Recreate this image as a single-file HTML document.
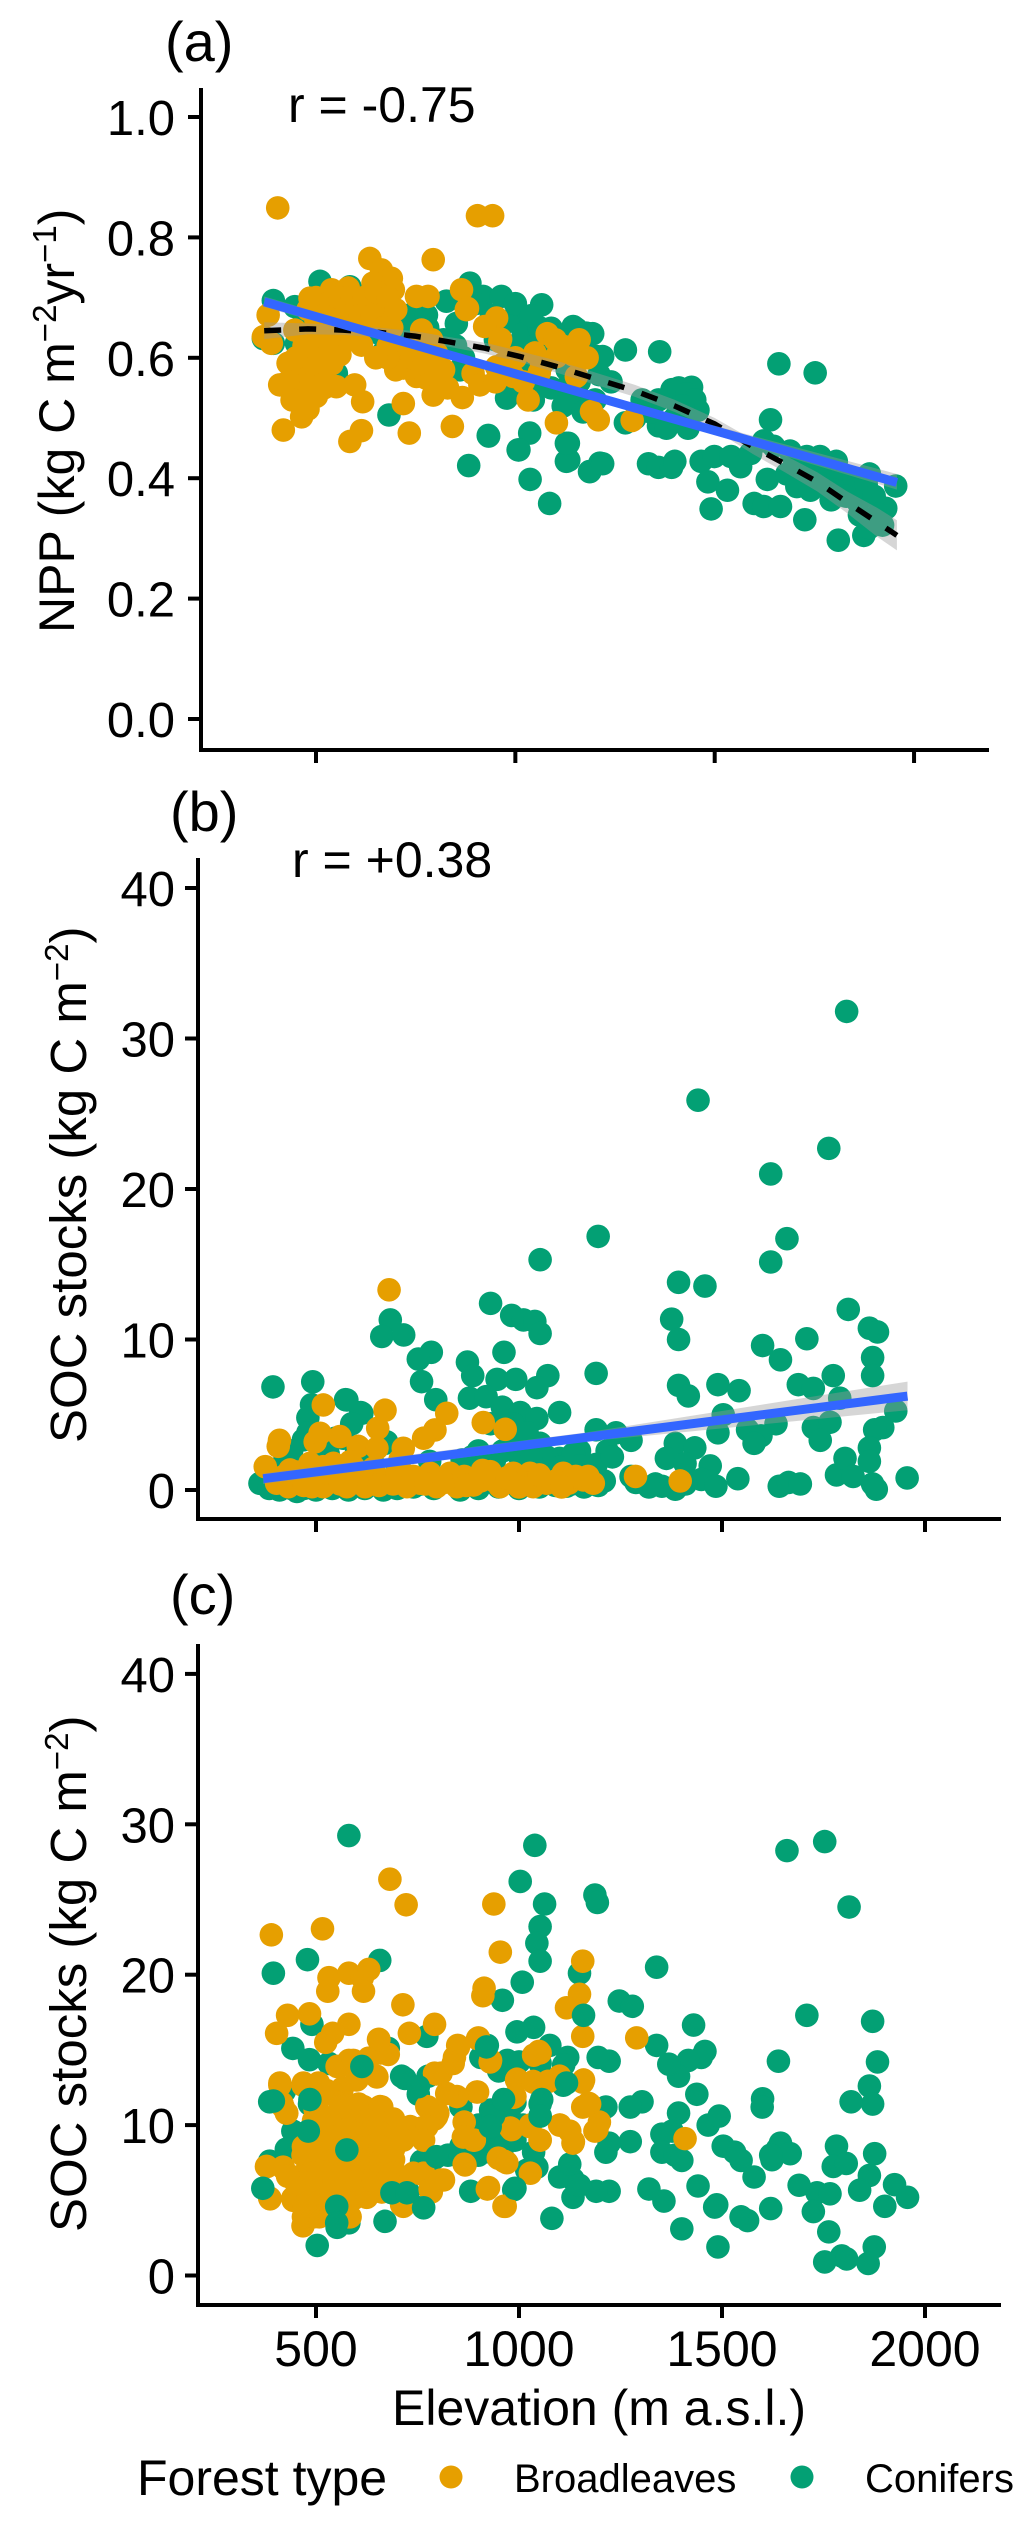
<!DOCTYPE html>
<html lang="en">
<head>
<meta charset="utf-8">
<title>NPP and SOC stocks along elevation</title>
<style>
html,body{margin:0;padding:0;background:#fff;}
svg{display:block;}
text{font-family:"Liberation Sans",Arial,sans-serif;fill:#000;}
.tick{font-size:49px;}
.title{font-size:50px;}
.panel{font-size:56px;}
</style>
</head>
<body>
<svg id="figure" xmlns="http://www.w3.org/2000/svg" width="1033" height="2526" viewBox="0 0 1033 2526">
  <g id="panel-a"></g>
  <g id="panel-b"></g>
  <g id="panel-c"></g>

  <text class="panel" x="165" y="61">(a)</text>
  <text class="panel" x="170" y="831">(b)</text>
  <text class="panel" x="170" y="1614">(c)</text>

  <text class="title" x="288" y="122">r = -0.75</text>
  <text class="title" x="292" y="877">r = +0.38</text>

  <text class="title" transform="translate(74,633) rotate(-90)">NPP (kg C m<tspan font-size="33" dy="-18">−2</tspan><tspan dy="18">yr</tspan><tspan font-size="33" dy="-18">−1</tspan><tspan dy="18">)</tspan></text>
  <text class="title" style="font-size:51px" transform="translate(86,1443) rotate(-90)">SOC stocks (kg C m<tspan font-size="33" dy="-18">−2</tspan><tspan dy="18">)</tspan></text>
  <text class="title" style="font-size:51px" transform="translate(86,2232) rotate(-90)">SOC stocks (kg C m<tspan font-size="33" dy="-18">−2</tspan><tspan dy="18">)</tspan></text>

  <text class="title" x="392" y="2425">Elevation (m a.s.l.)</text>

  <g>
    <text class="title" x="137" y="2495">Forest type</text>
    <circle cx="451" cy="2477" r="11.5" fill="#E69F00"></circle>
    <text x="514" y="2492" font-size="40">Broadleaves</text>
    <circle cx="802" cy="2477" r="11.5" fill="#03A074"></circle>
    <text x="865" y="2492" font-size="40">Conifers</text>
  </g>
</svg>

<script>
// ---------- Shared ticks ----------
const elevationTicks = [500, 1000, 1500, 2000];
const elevationTickLabels = ["500", "1000", "1500", "2000"];
const nppTicks = [0, 0.2, 0.4, 0.6, 0.8, 1.0];
const nppTickLabels = ["0.0", "0.2", "0.4", "0.6", "0.8", "1.0"];
const socTicks = [0, 10, 20, 30, 40];
const socTickLabels = ["0", "10", "20", "30", "40"];

// ---------- Panel (a): [elevation, NPP] ----------
const nppConifers = [
[393,.695],[510,.727],[447,.685],[585,.718],[368,.632],[393,.624],[476,.608],[451,.624],[551,.574],[430,.558],
[683,.505],[798,.558],[735,.671],[777,.671],[827,.694],[886,.724],[919,.702],[965,.702],[852,.657],[1011,.669],
[1066,.688],[1045,.657],[1090,.649],[1145,.652],[1178,.641],[995,.619],[861,.58],[978,.533],[1045,.53],[1053,.558],
[1120,.547],[1145,.53],[932,.471],[1036,.475],[1007,.447],[1133,.458],[1134,.43],[883,.421],[1037,.398],[1187,.411],
[1212,.425],[710,.602],[752,.602],[668,.608],[1204,.602],[1276,.613],[1362,.61],[1661,.59],[1752,.575],[1640,.497],
[1442,.551],[1393,.547],[1433,.525],[1458,.513],[1318,.53],[1359,.53],[1409,.517],[1359,.487],[1379,.483],[1276,.492],
[1433,.483],[1334,.424],[1359,.418],[1392,.418],[1400,.428],[1466,.428],[1499,.436],[1483,.394],[1532,.38],[1491,.349],
[1541,.436],[1565,.419],[1590,.441],[1623,.462],[1632,.398],[1599,.358],[1623,.353],[1665,.353],[1726,.331],[1810,.297],
[1874,.305],[1929,.35],[1954,.387],[1863,.339],[1792,.364],[1855,.381],[1871,.373],[1888,.407],[1805,.428],[1764,.436],
[1731,.436],[1689,.445],[1648,.453],[1681,.407],[1706,.386],[1764,.398],[1830,.39],[1888,.318],[1921,.322],[1219,.602],
[1194,.64],[1153,.648],[1210,.572],[1086,.358],[1128,.428],[1186,.411],[1219,.424],[933,.47],[1009,.447],[1128,.458],
[900,.69],[940,.67],[980,.66],[1020,.64],[1060,.65],[1100,.63],[1130,.63],[1000,.69],[1040,.67],[1170,.62],
[950,.63],[1000,.6],[1050,.62],[1090,.6],[1130,.58],[1160,.56],[1090,.55],[1120,.52],[1010,.55],[980,.56],
[1030,.58],[1060,.56],[1240,.56],[1200,.53],[1170,.51],[850,.62],[870,.6],[820,.63],[720,.66],[780,.65],
[800,.63],[750,.64],[690,.63],[660,.64],[700,.64],[470,.66],[520,.68],[1700,.43],[1730,.41],[1760,.42],
[1790,.41],[1820,.4],[1850,.4],[1880,.39],[1800,.38],[1830,.37],[1860,.36],[1770,.39],[1740,.38],[1410,.55],
[1430,.54],[1450,.53],[1420,.52],[1400,.5],[1340,.51],[1300,.5],[1900,.37],[1910,.34]
];
const nppBroadleaves = [
[635,.765],[664,.746],[689,.732],[643,.724],[694,.713],[652,.702],[685,.685],[623,.691],[660,.674],[539,.713],
[581,.716],[485,.699],[526,.696],[572,.691],[510,.685],[560,.677],[752,.702],[781,.702],[794,.763],[865,.713],
[877,.68],[953,.666],[923,.652],[765,.646],[380,.671],[447,.646],[388,.624],[368,.635],[518,.619],[560,.605],
[614,.621],[501,.635],[681,.619],[710,.608],[802,.608],[794,.594],[719,.583],[752,.569],[777,.566],[430,.591],
[460,.574],[409,.555],[489,.563],[551,.552],[597,.555],[617,.527],[464,.524],[501,.536],[464,.502],[418,.48],
[719,.524],[585,.461],[614,.479],[734,.475],[794,.538],[867,.534],[842,.486],[894,.574],[911,.555],[961,.627],
[953,.585],[995,.569],[1049,.608],[1066,.588],[1145,.605],[1120,.619],[1103,.602],[1153,.569],[1032,.53],[1103,.492],
[1191,.511],[1208,.497],[1293,.496],[905,.836],[943,.836],[404,.849],[963,.631],[880,.682],[530,.66],[540,.64],
[500,.66],[590,.65],[620,.66],[470,.62],[480,.59],[440,.57],[470,.555],[520,.58],[1000,.6],[1060,.575],
[500,.7],[530,.69],[560,.7],[590,.7],[620,.7],[650,.71],[680,.7],[700,.68],[480,.68],[520,.67],
[550,.66],[580,.67],[610,.67],[640,.67],[670,.65],[690,.65],[500,.62],[530,.63],[560,.64],[590,.63],
[520,.6],[540,.59],[490,.59],[500,.55],[450,.6],[430,.56],[470,.53],[440,.53],[480,.515],[520,.55],
[700,.58],[740,.6],[770,.59],[800,.57],[830,.55],[820,.58],[760,.62],[790,.63],[680,.6],[650,.6],
[1080,.64],[1100,.63],[1150,.62],[1180,.6],[970,.59],[950,.56],[1020,.56],[1160,.63]
];
const nppTrendElevation = [370,480,568,660,748,836,924,1012,1100,1188,1300,1400,1500,1596,1676,1757,1832,1907,1957];
const nppTrendValues = [.645,.648,.646,.642,.636,.626,.616,.602,.586,.568,.545,.52,.49,.452,.424,.394,.36,.327,.305];
const nppTrendLow = [.631,.639,.638,.634,.628,.618,.607,.593,.576,.558,.535,.51,.48,.44,.41,.378,.342,.303,.28];
const nppTrendHigh = [.659,.657,.654,.65,.644,.634,.625,.611,.596,.578,.555,.53,.5,.464,.438,.41,.378,.351,.33];
const nppFitElevation = [370,1160,1957];
const nppFitValues = [.693,.543,.393];
const nppFitLow = [.684,.539,.381];
const nppFitHigh = [.702,.547,.407];

// ---------- Panel (b): [elevation, SOC] ----------
const socBConifers = [
[394,6.85],[492,7.19],[573,6],[610,5.15],[489,5.66],[480,4.8],[683,11.3],[662,10.2],[716,10.3],[784,9.15],
[752,8.7],[760,7.2],[795,6],[930,12.4],[982,11.6],[1011,11.3],[1039,11.2],[1052,10.4],[963,9.15],[873,8.5],
[886,7.6],[946,7.35],[992,7.35],[1071,7.6],[1044,6.8],[878,6.1],[919,6.2],[959,5.5],[1003,5.15],[1044,4.75],
[1100,5.15],[1052,15.3],[1195,16.85],[1190,7.75],[1190,4],[1239,3.8],[1276,3.3],[1217,2.6],[1149,2.6],[1052,3.1],
[1100,2.1],[1441,25.9],[1807,31.8],[1763,22.7],[1620,21],[1660,16.7],[1620,15.15],[1393,13.8],[1458,13.55],[1376,11.35],
[1393,10],[1811,12],[1863,10.75],[1883,10.5],[1871,8.8],[1871,7.6],[1774,7.6],[1709,10.05],[1600,9.6],[1644,8.65],
[1688,7],[1725,6.75],[1790,6.1],[1490,7],[1542,6.6],[1393,6.95],[1417,6.25],[1503,5],[1490,3.8],[1563,4],
[1596,3.6],[1579,3.1],[1633,4.4],[1725,4.15],[1766,4.5],[1742,3.3],[1896,4.15],[1876,4],[1928,5.25],[1385,3.1],
[1433,2.8],[1363,2.1],[1409,1.75],[1471,1.6],[1449,.7],[1485,.25],[1539,.75],[1276,.9],[1288,.5],[1336,.4],
[1352,.25],[1385,.05],[1641,.25],[1664,.5],[1693,.4],[1782,1],[1803,2.1],[1823,.9],[1863,2.8],[1863,1.9],
[1871,.4],[1880,.05],[1956,.8],[362,.44],[391,1.22],[420,1.77],[469,3.33],[576,5.98],[613,5.1],[588,4.4],
[567,3.44],[674,3.2],[884,2.2],[1040,3.1],[1134,2.4],[1068,2.2],[666,0],[855,0],[453,-.1],[549,3.45],
[670,3.1],[760,.4],[857,.25],[1019,1.4],[1117,.25],[940,2],[1000,2.3],[1180,1.2],[1210,.6],[1130,.4],
[385,.1],[410,0],[440,.1],[470,.1],[500,0],[540,.1],[580,0],[620,.1],[700,.1],[740,.2],
[790,.1],[900,.1],[950,.2],[1000,.1],[1050,.2],[1090,.3],[1160,.2],[1195,.3],[1320,.2],[1410,.4],
[440,2.6],[480,3.8],[530,2.4],[600,2.6],[640,1.8],[700,1.6],[780,1.9],[860,2],[900,2.6],[960,2.6],
[980,3.2],[1030,2],[1070,1.2],[1100,1.5],[1150,1.6],[1190,1.7],[1230,2.2],[930,4.4],[985,4.4],[1020,3.8]
];
const socBBroadleaves = [
[410,3.3],[407,2.9],[375,1.55],[518,5.65],[498,3.2],[510,3.77],[559,3.55],[604,2.9],[650,2.77],[652,4.1],
[670,5.3],[822,5.1],[793,3.99],[765,3.44],[912,4.48],[966,4.03],[715,2.77],[403,.45],[432,.22],[461,.89],
[490,.22],[518,1.55],[518,.22],[547,.67],[576,.22],[592,1.55],[621,.22],[641,1.11],[674,.67],[699,1.11],
[724,.22],[756,.45],[781,1.11],[797,.22],[830,1.11],[847,.22],[888,.33],[929,1.22],[953,.22],[986,1.11],
[994,.67],[1027,1.11],[1035,.22],[1068,.45],[1109,1.11],[1122,.45],[1159,.67],[1183,.45],[1397,.6],[1287,.9],
[436,1.33],[485,1.77],[543,1.77],[584,1.88],[641,1.44],[707,2],[556,1.11],[617,1.11],[680,13.3],[910,1.3],
[420,.9],[450,1.2],[470,.3],[505,.8],[530,1.1],[560,.4],[600,.7],[630,.4],[655,.3],[690,.4],
[710,.6],[740,.9],[770,.4],[815,.5],[865,.9],[870,.3],[905,.6],[940,.6],[970,.8],[1010,.5],
[1050,1],[1090,.6],[1140,.9],[1000,.2],[1105,.2],[1170,.9]
];
const socBFitElevation = [370,1160,1957];
const socBFitValues = [.75,3.48,6.24];
const socBFitLow = [.4,3.2,5.3];
const socBFitHigh = [1.1,3.8,7.2];

// ---------- Panel (c): [elevation, SOC] ----------
const socCConifers = [
[581,29.25],[1039,28.6],[1003,26.2],[1063,24.7],[1052,23.2],[1044,22.1],[1052,20.9],[1008,19.5],[1187,25.3],[1193,24.8],
[657,20.95],[479,21],[395,20.1],[959,18.3],[1149,20.1],[1339,20.5],[1247,18.25],[1279,17.9],[1430,16.65],[1709,17.3],
[1871,16.9],[1660,28.25],[1753,28.85],[1813,24.5],[1883,14.2],[1863,12.6],[1871,11.4],[1818,11.55],[1639,14.25],[1600,11.75],
[1599,11.2],[1876,8.1],[1782,8.6],[1774,7.25],[1806,7.45],[1863,6.65],[1839,5.67],[1925,6.04],[1957,5.2],[1901,4.6],
[1690,6],[1734,5.5],[1766,5.43],[1725,4.25],[1763,2.9],[1875,1.9],[1795,1.3],[1807,1.1],[1753,.9],[1860,.8],
[1490,1.9],[1401,3.1],[1620,4.45],[1547,3.9],[1563,3.65],[1482,4.55],[1487,4.7],[1579,6.55],[1503,8.6],[1531,8.2],
[1547,7.65],[1441,5.95],[1320,5.75],[1357,4.95],[1623,7.7],[1644,8.8],[1636,8.4],[1668,8.1],[1620,8],[1466,10],
[1493,10.6],[1458,14.9],[1449,14.5],[1417,14.3],[1393,13.25],[1369,14.05],[1339,15.3],[1438,12.05],[1393,10.8],[1377,9.6],
[1352,9.4],[1352,8.2],[1385,8],[1401,7.65],[1303,11.55],[1274,11.2],[1274,8.9],[1214,11.2],[1222,14.25],[1195,14.5],
[1120,14.5],[1076,15.3],[1036,16.5],[995,16.2],[1222,8.8],[1214,8.2],[1222,5.6],[1190,5.6],[1133,5.2],[1133,6.4],
[1100,6.55],[1125,7.4],[1149,6],[1081,3.8],[987,5.7],[1019,7],[1044,7.2],[881,5.6],[670,3.6],[552,3.2],
[503,2],[581,3.5],[557,4.75],[765,4.55],[687,5.55],[727,5.55],[386,7.6],[386,11.55],[422,12.25],[443,15.1],
[484,14.35],[490,16.7],[773,15.9],[678,15.1],[532,14.1],[614,13.9],[711,13.25],[776,13.25],[752,12.05],[857,11.2],
[922,15.3],[906,14.5],[971,14.3],[1052,14.1],[1109,12.65],[1157,12.9],[1052,11.4],[1052,10.6],[922,10.2],[930,9.4],
[955,11.2],[979,10.4],[898,9],[857,8.6],[825,8],[792,7.8],[760,7.6],[573,8.4],[484,9.6],[443,9.6],
[427,8.4],[484,11.4],[1036,8.2],[900,10],[930,11],[950,10],[970,9.5],[990,9],[960,8.5],[930,8.2],
[900,8],[990,11.5],[1010,10],[880,8.5],[1000,14.2],[1080,13],[1110,14],[950,13.6]
];
const socCBroadleaves = [
[390,22.65],[516,23.05],[682,26.35],[722,24.65],[938,24.7],[954,21.5],[1157,20.9],[1149,18.7],[1117,17.8],[1157,15.9],
[1290,15.8],[914,19.1],[911,18.6],[532,19.8],[529,18.9],[581,20.1],[614,19.8],[630,20.35],[617,18.9],[714,18],
[430,17.3],[484,17.4],[403,16.1],[581,16.7],[541,16.1],[524,15.5],[730,16.1],[792,16.7],[654,15.7],[898,15.75],
[849,15.3],[841,14.5],[808,13.45],[792,13.45],[678,14.7],[630,14.45],[581,14.3],[552,13.9],[602,13.05],[649,13.25],
[565,12.45],[411,12.65],[468,12.65],[508,12.65],[524,12.05],[419,11.2],[427,10.8],[508,10.8],[605,11.4],[662,11.2],
[776,11.2],[792,10.4],[800,10.8],[760,9.8],[711,9.4],[898,12.2],[930,14.3],[1049,14.9],[1036,14.65],[995,13.05],
[1036,12.85],[1071,12.9],[1100,13.25],[1157,12.85],[987,11.85],[1157,11.2],[1174,11.4],[1100,10],[1125,9.6],[1133,8.8],
[1198,10.2],[1187,9.6],[979,9.8],[1028,10],[1052,9],[865,10.2],[890,9],[1409,9.1],[963,7.6],[922,5.75],
[963,4.6],[865,7.4],[1028,6.8],[808,6.35],[784,5.55],[760,6.75],[711,4.75],[662,5.55],[581,3.9],[386,5.15],
[378,7.25],[419,7.2],[468,3.3],[443,5.15],[508,3.9],[468,8],[379,7.24],[420,7.13],[416,11.45],[428,10.8],
[411,12.8],[469,12.8],[506,12.8],[526,12.3],[498,11],[469,8.57],[576,11.45],[617,11.23],[658,11.23],[773,11.23],
[797,10.57],[732,9.9],[715,9],[773,9.9],[765,9],[740,6.8],[765,6.8],[814,6.35],[781,5.7],[707,6.6],
[715,4.6],[584,3.9],[469,3.9],[494,3.9],[444,5],[387,5.1],[461,6.6],[929,14.2],[1052,14.8],[994,13],
[1035,12.9],[1072,12.9],[990,11.9],[982,9.7],[1027,9.9],[1052,9],[1101,10],[1134,8.9],[1192,9.7],[1159,13],
[1171,11.45],[888,9],[863,9.2],[896,12.2],[847,11.9],[822,12.1],[797,13.4],[650,13.2],[600,13],[559,13.9],
[592,14.3],[658,14.8],[655,15.7],[851,15.2],[838,14.1],[900,15.8],[949,7.8],[970,7.5],[867,7.35],[925,5.85],
[966,4.6],[711,4.7],[494,10.3],[526,10.4],[559,10.2],[592,10.4],[625,10.3],[658,10.2],[691,10.4],[494,9.4],
[526,9.5],[559,9.3],[592,9.5],[625,9.4],[658,9.5],[691,9.3],[494,8.5],[526,8.6],[559,8.4],[592,8.6],
[625,8.5],[658,8.6],[691,8.4],[494,7.7],[526,7.6],[559,7.7],[592,7.6],[625,7.7],[658,7.6],[691,7.7],
[494,6.8],[526,6.9],[559,6.7],[592,6.8],[625,6.9],[658,6.7],[691,6.8],[494,5.9],[526,5.8],[559,5.9],
[592,6],[625,5.8],[658,5.9],[691,6],[494,5],[526,5.1],[559,5],[592,5.1],[625,5.2],[470,4.6],[560,11.2],
[450,6.2],[470,6.2],[480,5.3],[500,4.5],[530,4.5],[560,4.5],[510,6.3],[545,6.3],[575,6.3],[610,6.3],
[640,6.3],[675,6.3],[430,6.6]
];
const socCConifersOnTop = [
[481,9.6],[576,8.35],[613,13.9],[797,7.9],[719,13.1],[752,12.55],[920,15.2],[1159,17.3],[765,4.5],[551,4.6],
[551,3.5],[687,5.5],[724,5.5],[485,11.7],[395,11.6],[369,5.8],[1117,12.8],[1056,11.7],[1052,10.6],[990,5.8],
[937,10.6],[929,9.9],[962,11.7]
];

// ---------- Drawing ----------
const SVG_NS = "http://www.w3.org/2000/svg";
const GREEN = "#03A074";
const ORANGE = "#E69F00";
const BLUE = "#3366FF";

function node(parent, tag, attrs) {
  const el = document.createElementNS(SVG_NS, tag);
  for (const key in attrs) el.setAttribute(key, attrs[key]);
  parent.appendChild(el);
  return el;
}

function drawPoints(group, points, colour, sx, sy, name) {
  points.forEach(function (p) {
    const dot = node(group, "circle", { cx: sx(p[0]), cy: sy(p[1]), r: 11.8, fill: colour });
    
    
  });
}

function pathThrough(xs, ys, sx, sy) {
  return xs.map(function (x, i) { return (i ? "L" : "M") + sx(x).toFixed(1) + " " + sy(ys[i]).toFixed(1); }).join(" ");
}

function drawBand(group, xs, low, high, sx, sy, name) {
  const upper = pathThrough(xs, high, sx, sy);
  const lower = xs.slice().reverse().map(function (x, i) {
    return "L" + sx(x).toFixed(1) + " " + sy(low[xs.length - 1 - i]).toFixed(1);
  }).join(" ");
  const band = node(group, "path", { d: upper + " " + lower + " Z", fill: "#999999", "fill-opacity": 0.4 });
  
  
}

function drawLine(group, xs, ys, sx, sy, stroke, width, dash, name) {
  const line = node(group, "path", { d: pathThrough(xs, ys, sx, sy), fill: "none", stroke: stroke, "stroke-width": width });
  if (dash) line.setAttribute("stroke-dasharray", dash);
  
  
}

function drawAxes(group, sx, sy, box, yTicks, yLabels, showXLabels) {
  const yAxis = node(group, "line", { x1: box.left, x2: box.left, y1: box.top, y2: box.bottom + 2, stroke: "#000", "stroke-width": 4 });
  
  
  const xAxis = node(group, "line", { x1: box.left - 2, x2: box.right, y1: box.bottom, y2: box.bottom, stroke: "#000", "stroke-width": 4 });
  
  

  yTicks.forEach(function (v, i) {
    const y = sy(v);
    const mark = node(group, "line", { x1: box.left - 13, x2: box.left, y1: y, y2: y, stroke: "#000", "stroke-width": 4 });
    
    
    const label = node(group, "text", { class: "tick", x: 175, y: y + 18, "text-anchor": "end" });
    label.textContent = yLabels[i];
    
    
  });

  elevationTicks.forEach(function (v, i) {
    const x = sx(v);
    const mark = node(group, "line", { x1: x, x2: x, y1: box.bottom, y2: box.bottom + 13, stroke: "#000", "stroke-width": 4 });
    
    
    if (showXLabels) {
      const label = node(group, "text", { class: "tick", x: x, y: box.bottom + 61, "text-anchor": "middle", style: "font-size:50px" });
      label.textContent = elevationTickLabels[i];
      
      
    }
  });
}

// Panel (a)
(function () {
  const g = document.getElementById("panel-a");
  const sx = function (e) { return 316 + (e - 500) * 0.3987; };
  const sy = function (v) { return 719 - 602 * v; };
  drawPoints(g, nppConifers, GREEN, sx, sy, "point-conifer");
  drawPoints(g, nppBroadleaves, ORANGE, sx, sy, "point-broadleaf");
  drawBand(g, nppTrendElevation, nppTrendLow, nppTrendHigh, sx, sy, "trend-confidence-band");
  drawLine(g, nppTrendElevation, nppTrendValues, sx, sy, "#000", 5.5, "17 18", "dashed-trend-line");
  drawBand(g, nppFitElevation, nppFitLow, nppFitHigh, sx, sy, "fit-confidence-band");
  drawLine(g, nppFitElevation, nppFitValues, sx, sy, BLUE, 9, null, "linear-fit-line");
  drawAxes(g, sx, sy, { left: 201, right: 989, top: 88, bottom: 750 }, nppTicks, nppTickLabels, false);
})();

// Panel (b)
(function () {
  const g = document.getElementById("panel-b");
  const sx = function (e) { return 316 + (e - 500) * 0.406; };
  const sy = function (v) { return 1490 - 15.05 * v; };
  drawPoints(g, socBConifers, GREEN, sx, sy, "point-conifer");
  drawPoints(g, socBBroadleaves, ORANGE, sx, sy, "point-broadleaf");
  drawBand(g, socBFitElevation, socBFitLow, socBFitHigh, sx, sy, "fit-confidence-band");
  drawLine(g, socBFitElevation, socBFitValues, sx, sy, BLUE, 9, null, "linear-fit-line");
  drawAxes(g, sx, sy, { left: 198, right: 1001, top: 858, bottom: 1519 }, socTicks, socTickLabels, false);
})();

// Panel (c)
(function () {
  const g = document.getElementById("panel-c");
  const sx = function (e) { return 316 + (e - 500) * 0.406; };
  const sy = function (v) { return 2275.5 - 15.04 * v; };
  drawPoints(g, socCConifers, GREEN, sx, sy, "point-conifer");
  drawPoints(g, socCBroadleaves, ORANGE, sx, sy, "point-broadleaf");
  drawPoints(g, socCConifersOnTop, GREEN, sx, sy, "point-conifer");
  drawAxes(g, sx, sy, { left: 198, right: 1001, top: 1644, bottom: 2305 }, socTicks, socTickLabels, true);
})();
</script>
</body>
</html>
